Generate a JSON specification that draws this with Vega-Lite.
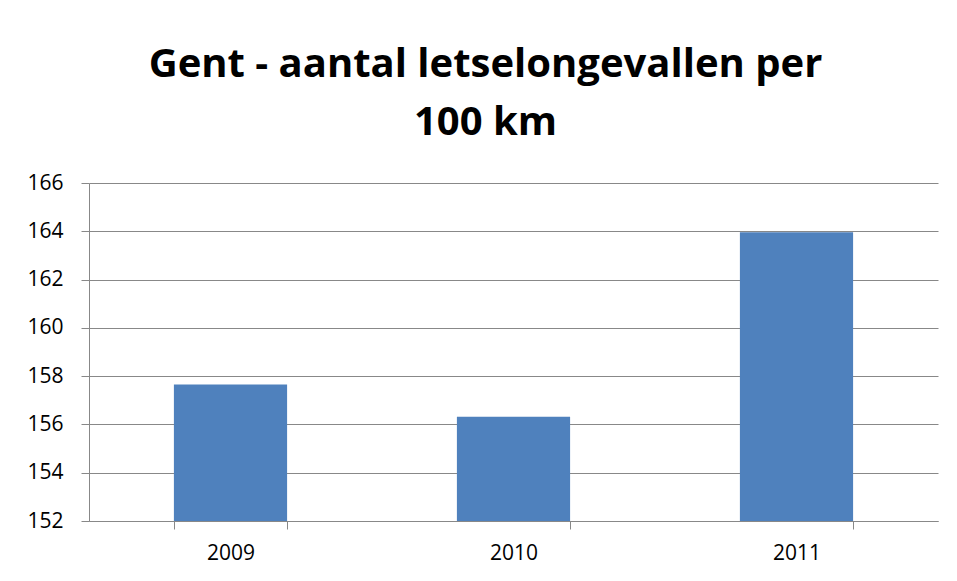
{
  "$schema": "https://vega.github.io/schema/vega-lite/v6.json",
  "autosize": "none",
  "width": 849,
  "height": 338,
  "padding": {"left": 89, "top": 183, "right": 19, "bottom": 60},
  "background": "white",
  "title": {
    "text": ["Gent - aantal letselongevallen per", "100 km"],
    "font": "Open Sans",
    "fontSize": 40,
    "fontWeight": "bold",
    "color": "#000000",
    "anchor": "middle",
    "lineHeight": 58,
    "offset": 29,
    "dx": -28,
    "frame": "group"
  },
  "data": {
    "values": [
      {"year": "2009", "value": 157.65},
      {"year": "2010", "value": 156.32},
      {"year": "2011", "value": 163.96}
    ]
  },
  "mark": {"type": "bar", "color": "#4F81BD", "clip": true},
  "encoding": {
    "x": {
      "field": "year",
      "type": "nominal",
      "sort": null,
      "scale": {"paddingInner": 0.6, "paddingOuter": 0.3},
      "axis": {
        "title": null,
        "labelAngle": 0,
        "tickBand": "extent",
        "tickSize": 8,
        "tickColor": "#888888",
        "domainColor": "#888888",
        "labelFont": "Open Sans",
        "labelFontSize": 21,
        "labelColor": "#000000",
        "labelPadding": 13,
        "grid": false
      }
    },
    "y": {
      "field": "value",
      "type": "quantitative",
      "scale": {"domain": [152, 166], "zero": false, "nice": false},
      "axis": {
        "title": null,
        "values": [152, 154, 156, 158, 160, 162, 164, 166],
        "grid": true,
        "gridColor": "#888888",
        "tickSize": 8,
        "tickColor": "#888888",
        "domainColor": "#888888",
        "labelFont": "Open Sans",
        "labelFontSize": 21,
        "labelColor": "#000000",
        "labelPadding": 18
      }
    }
  },
  "config": {"view": {"stroke": null}}
}
